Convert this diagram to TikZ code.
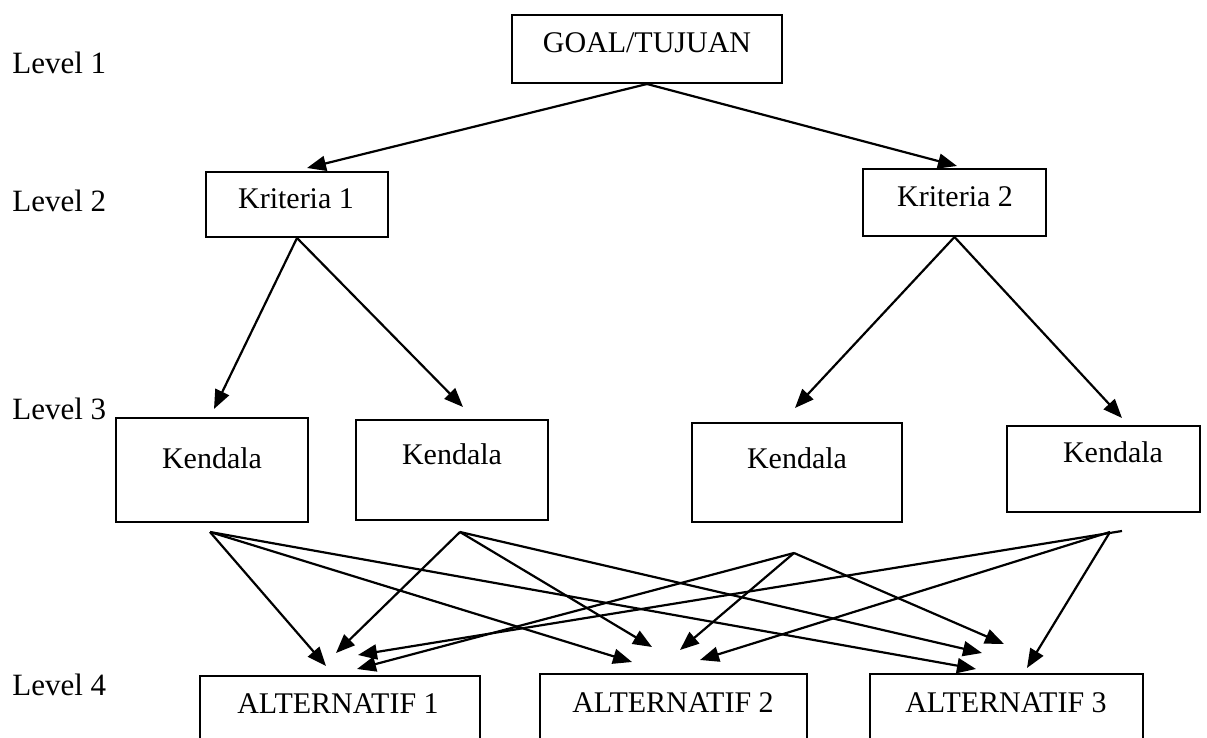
\documentclass[tikz,border=0pt]{standalone}
\usepackage{fontspec}
\setmainfont{Liberation Serif}
\usetikzlibrary{arrows.meta}
\begin{document}
\begin{tikzpicture}[x=0.5pt,y=-0.5pt,
  box/.style={draw, line width=1pt, inner sep=0pt},
  lbl/.style={font=\fontsize{15}{18}\selectfont, inner sep=0pt, anchor=base},
  lvl/.style={font=\fontsize{15.5}{18}\selectfont, inner sep=0pt, anchor=base west},
  link/.style={line width=1.1pt, -{Triangle[length=9.5pt,width=7.5pt]}}
]
\useasboundingbox (0,0) rectangle (1207,738);
\clip (0,0) rectangle (1207,738);

% level captions
\node[lvl] (lv1) at (12,74)  {Level 1};
\node[lvl] (lv2) at (12,212) {Level 2};
\node[lvl] (lv3) at (12,419) {Level 3};
\node[lvl] (lv4) at (12,695) {Level 4};

% goal and criteria
\node[box, minimum width=135pt, minimum height=34pt]   (goal) at (647,49)    {};
\node[box, minimum width=91pt,  minimum height=32.5pt] (kr1)  at (297,204.5) {};
\node[box, minimum width=91.5pt,minimum height=33.5pt] (kr2)  at (954.5,202.5) {};
\node[lbl] (goalt) at (647,53)  {GOAL/TUJUAN};
\node[lbl] (kr1t)  at (296,209) {Kriteria 1};
\node[lbl] (kr2t)  at (955,207) {Kriteria 2};

% constraints
\node[box, minimum width=96pt,   minimum height=52pt]   (kd1) at (212,470)    {};
\node[box, minimum width=96pt,   minimum height=50pt]   (kd2) at (452,470)    {};
\node[box, minimum width=105pt,  minimum height=49.5pt] (kd3) at (797,472.5)  {};
\node[box, minimum width=96.5pt, minimum height=43pt]   (kd4) at (1103.5,469) {};
\node[lbl] (kd1t) at (212,468)  {Kendala};
\node[lbl] (kd2t) at (452,465)  {Kendala};
\node[lbl] (kd3t) at (797,468)  {Kendala};
\node[lbl] (kd4t) at (1113,462) {Kendala};

% alternatives (running off the lower edge)
\node[box, minimum width=140pt,   minimum height=52pt] (al1) at (340,728)    {};
\node[box, minimum width=133.5pt, minimum height=53pt] (al2) at (673.5,727)  {};
\node[box, minimum width=136.5pt, minimum height=53pt] (al3) at (1006.5,727) {};
\node[lbl] (al1t) at (338,713)  {ALTERNATIF 1};
\node[lbl] (al2t) at (673,712)  {ALTERNATIF 2};
\node[lbl] (al3t) at (1006,712) {ALTERNATIF 3};

% arrow tips above the criteria and constraints
\coordinate (tk1) at (307,168);
\coordinate (tk2) at (957,166);
\coordinate (td1) at (214,409);
\coordinate (td2) at (463,407);
\coordinate (td3) at (795,408);
\coordinate (td4) at (1122,418);

\draw[link] (goal.south) -- (tk1);
\draw[link] (goal.south) -- (tk2);
\draw[link] (kr1.south) -- (td1);
\draw[link] (kr1.south) -- (td2);
\draw[link] (kr2.south) -- (td3);
\draw[link] (kr2.south) -- (td4);

% fan-out points below the constraints
\coordinate (s1)  at (210,532);
\coordinate (s2)  at (460,532);
\coordinate (s3)  at (794,553);
\coordinate (s4)  at (1110,532);
\coordinate (s4e) at (1122,531);

% arrow tips above the alternatives
\coordinate (a1) at (326,666);
\coordinate (a2) at (336,653);
\coordinate (a3) at (357,669);
\coordinate (a4) at (358,655);
\coordinate (b1) at (632,662);
\coordinate (b2) at (652,647);
\coordinate (b3) at (680,650);
\coordinate (b4) at (700,660);
\coordinate (c1) at (976,669);
\coordinate (c2) at (982,653);
\coordinate (c3) at (1004,644);
\coordinate (c4) at (1027,668);

\draw[link] (s1) -- (a1);
\draw[link] (s1) -- (b1);
\draw[link] (s1) -- (c1);
\draw[link] (s2) -- (a2);
\draw[link] (s2) -- (b2);
\draw[link] (s2) -- (c2);
\draw[link] (s3) -- (a3);
\draw[link] (s3) -- (b3);
\draw[link] (s3) -- (c3);
\draw[link] (s4e) -- (a4);
\draw[link] (s4) -- (b4);
\draw[link] (s4) -- (c4);
\end{tikzpicture}
\end{document}
